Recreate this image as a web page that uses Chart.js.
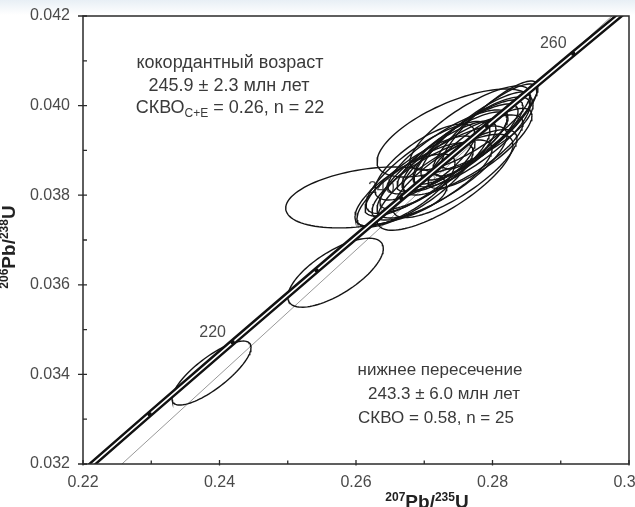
<!DOCTYPE html>
<html>
<head>
<meta charset="utf-8">
<script src="https://cdn.jsdelivr.net/npm/chart.js@4.4.1/dist/chart.umd.min.js"></script>
<style>
  html, body { margin: 0; padding: 0; }
  body { background: linear-gradient(#e8eff5 0px, #ffffff 15px); }
  #wrap { width: 635px; height: 507px; }
</style>
</head>
<body>
<div id="wrap"><canvas id="concordia" width="635" height="507"></canvas></div>
<script>
// concordia curve: ages (Ma) and the ratios read at them
const concAges = [200, 210, 220, 230, 240, 250, 260, 270];
const concX = [0.21771, 0.22976, 0.24193, 0.25422, 0.26664, 0.27917, 0.29183, 0.30462];
const concY = [0.031511, 0.033113, 0.034716, 0.036323, 0.037932, 0.039543, 0.041157, 0.042773];
const ageLabels = [220, 240, 260];

// discordia (lower intercept) line, thin grey
const discX = [0.2257, 0.2975];
const discY = [0.032, 0.042];

// error ellipses: centre, half-extent in x and y, correlation
const ellX   = [0.2615, 0.27451, 0.2570, 0.23883,
                0.26864, 0.26938, 0.27055, 0.27114, 0.27201, 0.27260, 0.27348, 0.27407, 0.27451, 0.27524, 0.27568,
                0.27641, 0.27700, 0.27758, 0.27817, 0.27890, 0.27963, 0.27304, 0.27011, 0.26718, 0.27670];
const ellY   = [0.03795, 0.039388, 0.03627, 0.03403,
                0.038228, 0.038429, 0.038618, 0.038339, 0.038674, 0.038518, 0.038966, 0.038964, 0.038482, 0.039054, 0.038897,
                0.039187, 0.039189, 0.039321, 0.039045, 0.039455, 0.039567, 0.038289, 0.038741, 0.038116, 0.039500];
const ellSx  = [0.0118, 0.01143, 0.0070, 0.00579,
                0.00850, 0.00806, 0.00908, 0.00879, 0.00850, 0.00952, 0.00879, 0.00806, 0.00908, 0.00850, 0.00879,
                0.00806, 0.00850, 0.00806, 0.00762, 0.00762, 0.00703, 0.00996, 0.00733, 0.00733, 0.00879];
const ellSy  = [0.00068, 0.000982, 0.00077, 0.000714,
                0.000938, 0.000893, 0.001027, 0.000893, 0.000982, 0.001027, 0.000938, 0.000893, 0.000982, 0.000982, 0.000893,
                0.000938, 0.001004, 0.000982, 0.000893, 0.001027, 0.000982, 0.001071, 0.000848, 0.000804, 0.000938];
const ellRho = [0.35, 0.65, 0.7, 0.8,
                0.8, 0.82, 0.8, 0.78, 0.84, 0.8, 0.82, 0.84, 0.8, 0.84, 0.8,
                0.84, 0.82, 0.84, 0.82, 0.86, 0.86, 0.78, 0.74, 0.74, 0.8];

// axes
const xTicks = [0.22, 0.24, 0.26, 0.28, 0.30];
const xMinor = [0.23, 0.25, 0.27, 0.29];
const yTicks = [0.032, 0.034, 0.036, 0.038, 0.040, 0.042];
const yMinor = [0.033, 0.035, 0.037, 0.039, 0.041];

const FONT = '"Liberation Sans", Arial, sans-serif';
const TEXT = '#3a3a3a';

const ellipsePoints = (i) => {
    const pts = [];
    const k = Math.sqrt(1 - ellRho[i] * ellRho[i]);
    for (let s = 0; s <= 100; s++) {
        const t = s / 100 * Math.PI * 2;
        pts.push({
            x: ellX[i] + ellSx[i] * Math.cos(t),
            y: ellY[i] + ellSy[i] * (ellRho[i] * Math.cos(t) + k * Math.sin(t))
        });
    }
    return pts;
};

const concData = concX.map((x, i) => ({ x: x, y: concY[i] }));

const datasets = [
    {   // concordia core
        data: concData, showLine: true, borderColor: '#ffffff', borderWidth: 1.6,
        pointRadius: 0, clip: 0, order: 0
    },
    {   // concordia envelope
        data: concData, showLine: true, borderColor: '#111111', borderWidth: 6.5,
        pointRadius: 0, clip: 0, order: 1
    },
    {   // age marks
        data: concData, showLine: false, pointRadius: 2.2, pointBackgroundColor: '#111',
        pointBorderWidth: 0, clip: 0, order: -1
    },
    {
        data: discX.map((x, i) => ({ x: x, y: discY[i] })), showLine: true,
        borderColor: '#999999', borderWidth: 1, pointRadius: 0, clip: 0, order: 5
    }
];
ellX.forEach((_, i) => {
    datasets.push({
        data: ellipsePoints(i), showLine: true, borderColor: '#151515', borderWidth: 1.4,
        pointRadius: 0, clip: 0, order: 3
    });
});

const rich = (ctx, parts, x, y, align) => {
    let w = 0;
    parts.forEach(p => { ctx.font = p.f; w += ctx.measureText(p.t).width; });
    let cx = align === 'center' ? x - w / 2 : (align === 'right' ? x - w : x);
    ctx.textAlign = 'left';
    ctx.textBaseline = 'alphabetic';
    parts.forEach(p => {
        ctx.font = p.f;
        ctx.fillText(p.t, cx, y + (p.dy || 0));
        cx += ctx.measureText(p.t).width;
    });
};

const ageTextPlugin = {
    id: 'ageText',
    beforeDatasetsDraw(chart) {
        const ctx = chart.ctx, xs = chart.scales.x, ys = chart.scales.y;
        ctx.save();
        ctx.fillStyle = '#4a4a4a';
        ctx.font = '16px ' + FONT;
        ctx.textAlign = 'center';
        ctx.textBaseline = 'middle';
        ageLabels.forEach(a => {
            const i = concAges.indexOf(a);
            ctx.fillText(String(a), xs.getPixelForValue(concX[i]) - 20, ys.getPixelForValue(concY[i]) - 10);
        });
        ctx.restore();
    }
};

const framePlugin = {
    id: 'frame',
    afterDatasetsDraw(chart) {
        const ctx = chart.ctx, a = chart.chartArea;
        const xs = chart.scales.x, ys = chart.scales.y;
        ctx.save();
        ctx.strokeStyle = '#2a2a2a';
        ctx.lineWidth = 1.5;
        ctx.strokeRect(a.left, a.top, a.right - a.left, a.bottom - a.top);

        ctx.lineWidth = 1.3;
        ctx.beginPath();
        xTicks.forEach(v => { const p = xs.getPixelForValue(v); ctx.moveTo(p, a.bottom + 1.5); ctx.lineTo(p, a.bottom - 4); });
        xMinor.forEach(v => { const p = xs.getPixelForValue(v); ctx.moveTo(p, a.bottom); ctx.lineTo(p, a.bottom - 3.5); });
        yTicks.forEach(v => { const p = ys.getPixelForValue(v); ctx.moveTo(a.left - 5, p); ctx.lineTo(a.left + 4, p); });
        yMinor.forEach(v => { const p = ys.getPixelForValue(v); ctx.moveTo(a.left, p); ctx.lineTo(a.left + 4, p); });
        ctx.stroke();

        ctx.fillStyle = '#4a4a4a';
        ctx.font = '16px ' + FONT;
        ctx.textBaseline = 'middle';
        ctx.textAlign = 'right';
        yTicks.forEach(v => ctx.fillText(v.toFixed(3), a.left - 13, ys.getPixelForValue(v)));
        ctx.textAlign = 'center';
        xTicks.forEach(v => ctx.fillText(v.toFixed(2), xs.getPixelForValue(v), a.bottom + 19));

        // axis titles
        ctx.fillStyle = '#222';
        const big = 'bold 19px ' + FONT, sup = 'bold 12px ' + FONT;
        rich(ctx, [{ t: '207', f: sup, dy: -7 }, { t: 'Pb/', f: big }, { t: '235', f: sup, dy: -7 }, { t: 'U', f: big }],
            427, 508, 'center');
        ctx.save();
        ctx.translate(15, 247);
        ctx.rotate(-Math.PI / 2);
        rich(ctx, [{ t: '206', f: sup, dy: -7 }, { t: 'Pb/', f: big }, { t: '238', f: sup, dy: -7 }, { t: 'U', f: big }],
            0, 0, 'center');
        ctx.restore();

        // annotations
        ctx.fillStyle = TEXT;
        const nf = '18px ' + FONT, sf = '12px ' + FONT;
        rich(ctx, [{ t: 'кокордантный возраст', f: nf }], 230, 68, 'center');
        rich(ctx, [{ t: '245.9 ± 2.3 млн лет', f: nf }], 229, 91, 'center');
        rich(ctx, [{ t: 'СКВО', f: nf }, { t: 'C+E', f: sf, dy: 4 }, { t: ' = 0.26, n = 22', f: nf }], 230, 113, 'center');
        const bf = '17px ' + FONT;
        rich(ctx, [{ t: 'нижнее пересечение', f: bf }], 440, 375, 'center');
        rich(ctx, [{ t: '243.3 ± 6.0 млн лет', f: bf }], 444, 399, 'center');
        rich(ctx, [{ t: 'СКВО = 0.58, n = 25', f: bf }], 436, 423, 'center');
        ctx.restore();
    }
};

new Chart(document.getElementById('concordia'), {
    type: 'scatter',
    data: { datasets: datasets },
    options: {
        responsive: false,
        animation: false,
        events: [],
        layout: { padding: { left: 83, right: 6, top: 16, bottom: 43 } },
        plugins: { legend: { display: false }, tooltip: { enabled: false } },
        scales: {
            x: { type: 'linear', min: 0.22, max: 0.30, display: false },
            y: { type: 'linear', min: 0.032, max: 0.042, display: false }
        }
    },
    plugins: [ageTextPlugin, framePlugin]
});
</script>
</body>
</html>
